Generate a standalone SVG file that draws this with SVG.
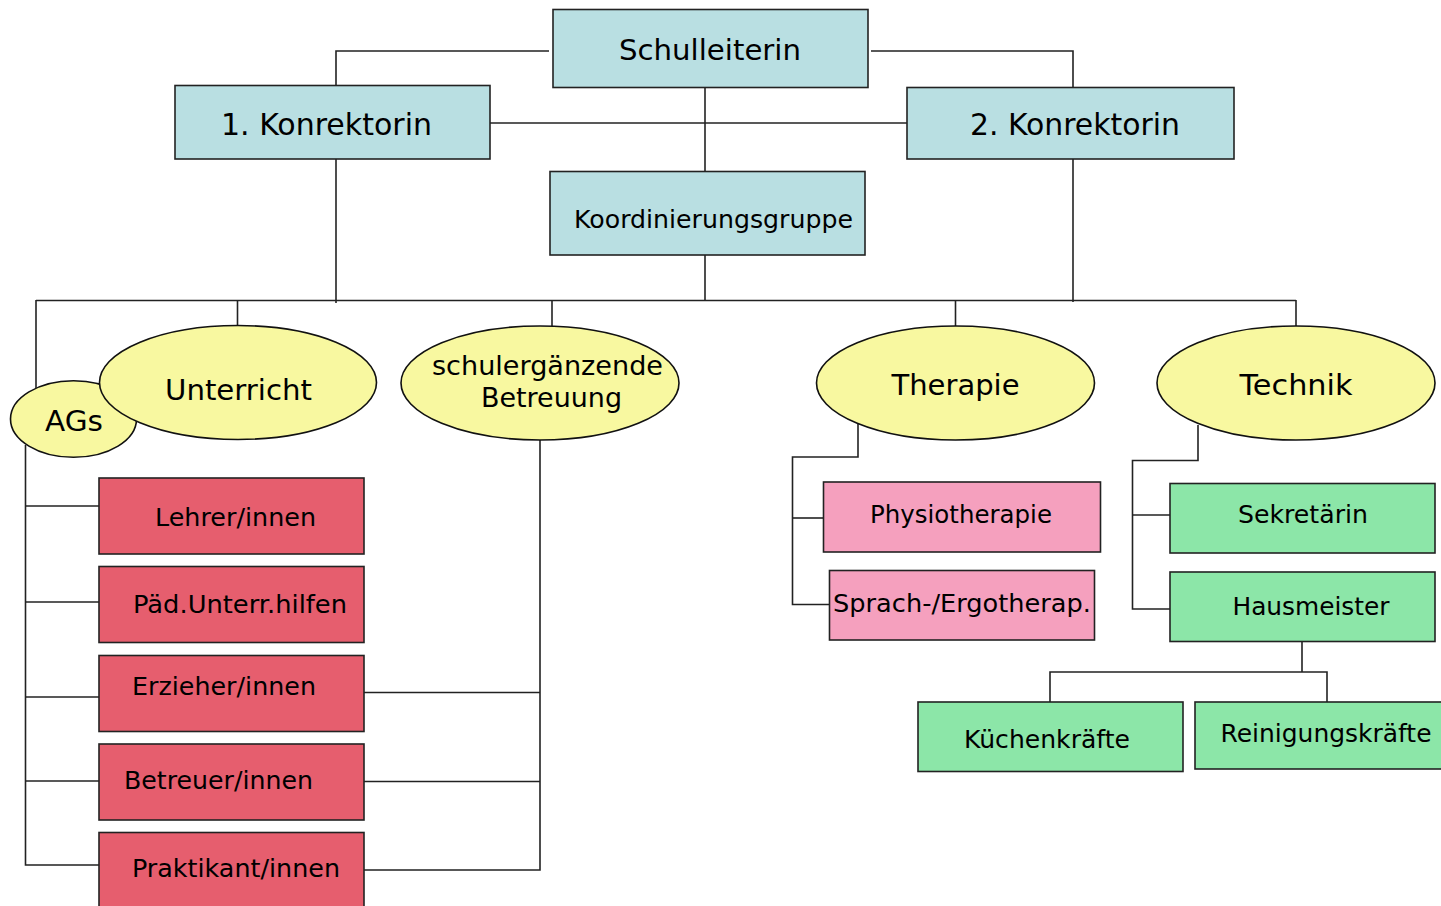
<svg xmlns="http://www.w3.org/2000/svg" width="1441" height="906" viewBox="0 0 1441 906">
<style>
text{font-family:"DejaVu Sans","Verdana","Liberation Sans",sans-serif;fill:#000;text-anchor:start}
.box{stroke:#222;stroke-width:1.6}
.blue{fill:#B9DFE2}
.red{fill:#E65E6E}
.pink{fill:#F5A0BE}
.green{fill:#8CE6A8}
.ell{fill:#F8F8A0;stroke:#111;stroke-width:1.6}
#connectors path{fill:none;stroke:#222;stroke-width:1.6}
</style>
<rect width="1441" height="906" fill="#fff"/>
<g id="connectors">
<path d="M549,51 H336 V86"/>
<path d="M871,51 H1073 V88"/>
<path d="M490,123 H907"/>
<path d="M705,88 V171"/>
<path d="M705,255 V301"/>
<path d="M336,159 V303"/>
<path d="M1073,159 V302"/>
<path d="M36,300.5 H1296"/>
<path d="M36,300 V388"/>
<path d="M237.5,300 V326"/>
<path d="M552,300 V326"/>
<path d="M955.5,300 V326"/>
<path d="M1296,300 V326"/>
<path d="M25.5,445 V865 H99"/>
<path d="M25.5,506 H99"/>
<path d="M25.5,602 H99"/>
<path d="M25.5,697 H99"/>
<path d="M25.5,781 H99"/>
<path d="M540,440 V870 H364"/>
<path d="M364,692.5 H540"/>
<path d="M364,781.5 H540"/>
<path d="M858,423 V457 H792.5 V604.5 H829"/>
<path d="M792.5,518 H823"/>
<path d="M1198,425 V460.5 H1132.5 V609 H1170"/>
<path d="M1132.5,515 H1170"/>
<path d="M1302,642 V672 M1050,702 V672 H1327 V702"/>
</g>
<g id="schulleiterin"><rect class="box blue" x="553" y="9.5" width="315" height="78"/><text x="619" y="60" font-size="29" textLength="182" lengthAdjust="spacingAndGlyphs">Schulleiterin</text></g>
<g id="konrektorin1"><rect class="box blue" x="175" y="85.5" width="315" height="73.5"/><text x="221" y="135" font-size="30" textLength="211" lengthAdjust="spacingAndGlyphs">1. Konrektorin</text></g>
<g id="konrektorin2"><rect class="box blue" x="907" y="87.5" width="327" height="71.5"/><text x="970" y="135" font-size="30" textLength="210" lengthAdjust="spacingAndGlyphs">2. Konrektorin</text></g>
<g id="koordinierungsgruppe"><rect class="box blue" x="550" y="171.5" width="315" height="83.5"/><text x="574" y="227.5" font-size="25" textLength="279" lengthAdjust="spacingAndGlyphs">Koordinierungsgruppe</text></g>
<g id="ags"><ellipse class="ell" cx="73.5" cy="419" rx="63" ry="38.3"/><text x="45" y="431" font-size="29" textLength="58" lengthAdjust="spacingAndGlyphs">AGs</text></g>
<g id="unterricht"><ellipse class="ell" cx="238" cy="382.5" rx="138.5" ry="57"/><text x="165" y="400" font-size="29" textLength="147" lengthAdjust="spacingAndGlyphs">Unterricht</text></g>
<g id="betreuung"><ellipse class="ell" cx="540" cy="383" rx="139" ry="57"/><text x="432" y="375" font-size="27" textLength="231" lengthAdjust="spacingAndGlyphs">schulergänzende</text><text x="481" y="407" font-size="27" textLength="141" lengthAdjust="spacingAndGlyphs">Betreuung</text></g>
<g id="therapie"><ellipse class="ell" cx="955.5" cy="383" rx="139" ry="57"/><text x="891.5" y="394.5" font-size="29" textLength="128" lengthAdjust="spacingAndGlyphs">Therapie</text></g>
<g id="technik"><ellipse class="ell" cx="1296" cy="383" rx="139" ry="57"/><text x="1239.5" y="394.5" font-size="29" textLength="113" lengthAdjust="spacingAndGlyphs">Technik</text></g>
<g id="lehrer"><rect class="box red" x="99" y="478" width="265" height="76"/><text x="155" y="526" font-size="25" textLength="161" lengthAdjust="spacingAndGlyphs">Lehrer/innen</text></g>
<g id="paed"><rect class="box red" x="99" y="566.5" width="265" height="76"/><text x="133" y="613" font-size="25" textLength="214" lengthAdjust="spacingAndGlyphs">Päd.Unterr.hilfen</text></g>
<g id="erzieher"><rect class="box red" x="99" y="655.5" width="265" height="76"/><text x="132" y="695" font-size="25" textLength="184" lengthAdjust="spacingAndGlyphs">Erzieher/innen</text></g>
<g id="betreuer"><rect class="box red" x="99" y="744" width="265" height="76"/><text x="124" y="789" font-size="25" textLength="189" lengthAdjust="spacingAndGlyphs">Betreuer/innen</text></g>
<g id="praktikant"><rect class="box red" x="99" y="832.5" width="265" height="80"/><text x="132" y="877" font-size="25" textLength="208" lengthAdjust="spacingAndGlyphs">Praktikant/innen</text></g>
<g id="physiotherapie"><rect class="box pink" x="823.5" y="482" width="277" height="70"/><text x="870" y="523" font-size="24.5" textLength="182" lengthAdjust="spacingAndGlyphs">Physiotherapie</text></g>
<g id="sprachtherapie"><rect class="box pink" x="829.5" y="570.5" width="265" height="69.5"/><text x="833" y="612" font-size="25" textLength="258" lengthAdjust="spacingAndGlyphs">Sprach-/Ergotherap.</text></g>
<g id="sekretaerin"><rect class="box green" x="1170" y="483.5" width="265" height="69.5"/><text x="1238" y="523" font-size="25" textLength="130" lengthAdjust="spacingAndGlyphs">Sekretärin</text></g>
<g id="hausmeister"><rect class="box green" x="1170" y="572" width="265" height="69.5"/><text x="1232.5" y="615" font-size="25" textLength="157" lengthAdjust="spacingAndGlyphs">Hausmeister</text></g>
<g id="kuechenkraefte"><rect class="box green" x="918" y="702" width="265" height="69.5"/><text x="964" y="748" font-size="25" textLength="166" lengthAdjust="spacingAndGlyphs">Küchenkräfte</text></g>
<g id="reinigungskraefte"><rect class="box green" x="1195" y="702" width="250" height="67"/><text x="1220.5" y="742" font-size="25" textLength="211" lengthAdjust="spacingAndGlyphs">Reinigungskräfte</text></g>
</svg>
